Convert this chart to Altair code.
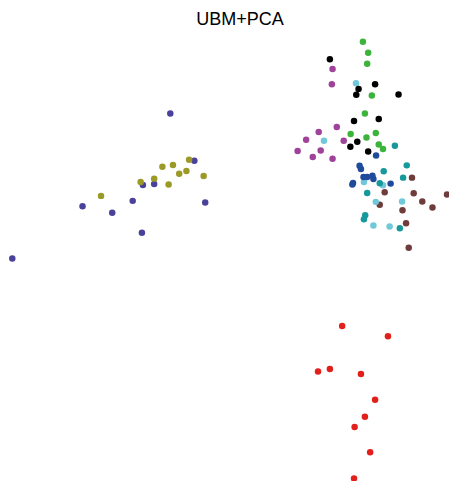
import altair as alt
import pandas as pd

TITLE = "UBM+PCA"

# cluster points (x, y) in arbitrary embedding units
green_x = [366.7, 372.0, 371.0, 375.7, 368.7, 354.3, 370.3, 379.7, 382.7, 387.0]
green_y = [41.7, 52.7, 63.7, 95.7, 113.7, 134.3, 137.7, 133.3, 144.7, 149.3]
black_x = [333.3, 379.0, 362.3, 360.0, 402.7, 357.7, 382.7, 361.0, 354.0, 372.0]
black_y = [59.3, 84.3, 89.0, 95.0, 94.7, 121.3, 119.3, 142.0, 147.0, 151.7]
magenta_x = [336.0, 335.3, 322.0, 340.3, 309.3, 347.3, 300.7, 324.0, 316.0, 336.0]
magenta_y = [69.0, 84.3, 132.3, 127.3, 140.0, 141.0, 151.3, 150.7, 157.3, 159.0]
cyan_x = [359.7, 327.3, 367.7, 387.0, 379.7, 406.3, 377.3, 393.7]
cyan_y = [83.3, 141.0, 182.3, 185.7, 202.3, 202.0, 226.0, 227.0]
teal_x = [399.0, 411.0, 387.7, 407.3, 383.7, 371.0, 369.0, 367.7, 404.0]
teal_y = [146.0, 165.7, 171.7, 178.0, 183.7, 193.3, 215.7, 219.7, 228.7]
blue_x = [380.0, 363.3, 364.7, 367.3, 371.0, 376.3, 377.3, 356.7, 356.0, 394.7]
blue_y = [155.7, 166.0, 169.3, 177.3, 177.3, 176.0, 179.3, 183.3, 185.0, 184.0]
brown_x = [416.3, 388.7, 418.0, 451.7, 426.7, 437.0, 383.7, 406.7, 410.3, 413.0]
brown_y = [178.0, 192.7, 193.7, 195.0, 202.0, 208.0, 205.3, 210.7, 223.7, 248.3]
purple_x = [172.0, 196.3, 144.3, 155.7, 134.0, 83.3, 113.3, 207.3, 143.3, 12.3]
purple_y = [113.7, 161.0, 185.3, 184.3, 201.3, 206.7, 213.3, 203.0, 233.3, 259.0]
olive_x = [102.0, 142.0, 155.7, 164.0, 174.7, 181.0, 188.3, 191.0, 170.3, 205.7]
olive_y = [196.3, 182.3, 179.0, 167.0, 165.3, 174.0, 171.3, 160.0, 185.0, 176.3]
red_x = [345.7, 392.0, 321.3, 333.3, 364.7, 379.0, 368.7, 358.3, 374.0, 357.7]
red_y = [326.7, 337.0, 372.3, 370.0, 375.0, 400.7, 417.7, 428.0, 453.3, 479.7]

groups = [
    ("purple", purple_x, purple_y, "#4a419a"),
    ("olive", olive_x, olive_y, "#9b9a27"),
    ("red", red_x, red_y, "#e31f1b"),
    ("brown", brown_x, brown_y, "#6e3c3c"),
    ("cyan", cyan_x, cyan_y, "#70c8d8"),
    ("teal", teal_x, teal_y, "#16999a"),
    ("blue", blue_x, blue_y, "#1f4b9c"),
    ("magenta", magenta_x, magenta_y, "#9e4399"),
    ("black", black_x, black_y, "#000000"),
    ("green", green_x, green_y, "#3cb43c"),
]

rows = []
for name, xs, ys, _ in groups:
    for x, y in zip(xs, ys):
        rows.append({"cluster": name, "x": x, "y": 489 - y})
df = pd.DataFrame(rows)

points = alt.Chart(df).mark_circle(size=42, opacity=1).encode(
    x=alt.X("x:Q", scale=alt.Scale(domain=[7.95, 453.7], nice=False, zero=False), axis=None),
    y=alt.Y("y:Q", scale=alt.Scale(domain=[6.8, 481.1], nice=False, zero=False), axis=None),
    color=alt.Color("cluster:N",
                    scale=alt.Scale(domain=[g[0] for g in groups], range=[g[3] for g in groups]),
                    legend=None),
)

title = alt.Chart(pd.DataFrame({"t": [TITLE]})).mark_text(
    font="Liberation Sans", fontSize=18, color="#000000", align="center", baseline="alphabetic"
).encode(text="t:N", x=alt.value(232), y=alt.value(17))

chart = alt.layer(points, title).properties(
    width=441,
    height=473,
    autosize=alt.AutoSizeParams(type="none"),
    padding={"top": 0, "left": 0, "right": 0, "bottom": 0},
).configure_view(stroke=None)

chart.save("out.html", embed_options={"renderer": "svg", "actions": False})
